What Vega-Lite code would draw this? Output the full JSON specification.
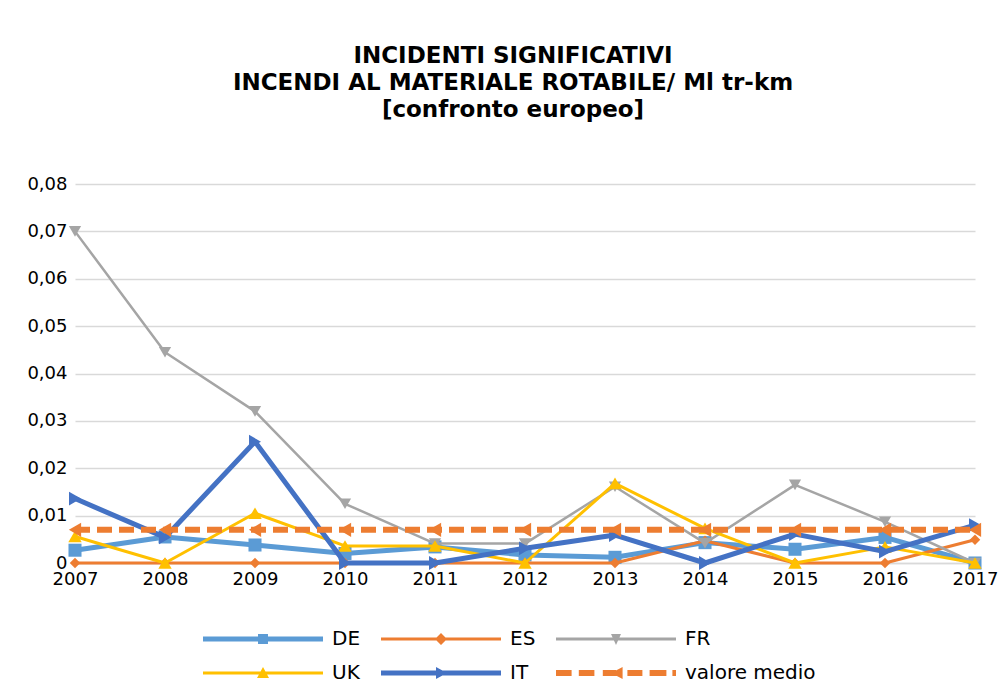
{
  "$schema": "https://vega.github.io/schema/vega-lite/v6.json",
  "width": 900,
  "height": 379,
  "autosize": {"type": "none"},
  "padding": {"left": 75, "top": 184, "right": 32, "bottom": 123},
  "background": "white",
  "title": {
    "text": ["INCIDENTI SIGNIFICATIVI", "INCENDI AL MATERIALE ROTABILE/ Ml tr-km", "[confronto europeo]"],
    "font": "DejaVu Sans",
    "fontSize": 23,
    "fontWeight": "bold",
    "color": "#000000",
    "anchor": "middle",
    "frame": "group",
    "baseline": "top",
    "lineHeight": 27,
    "offset": 53,
    "dx": -12
  },
  "config": {
    "view": {"stroke": null},
    "font": "DejaVu Sans"
  },
  "data": {
    "values": [
      {"anno": 2007, "serie": "DE", "valore": 0.0027},
      {"anno": 2008, "serie": "DE", "valore": 0.0055},
      {"anno": 2009, "serie": "DE", "valore": 0.0038},
      {"anno": 2010, "serie": "DE", "valore": 0.002},
      {"anno": 2011, "serie": "DE", "valore": 0.0034},
      {"anno": 2012, "serie": "DE", "valore": 0.0017},
      {"anno": 2013, "serie": "DE", "valore": 0.0012},
      {"anno": 2014, "serie": "DE", "valore": 0.0043},
      {"anno": 2015, "serie": "DE", "valore": 0.0029},
      {"anno": 2016, "serie": "DE", "valore": 0.0054},
      {"anno": 2017, "serie": "DE", "valore": 0.0},
      {"anno": 2007, "serie": "ES", "valore": 0},
      {"anno": 2008, "serie": "ES", "valore": 0},
      {"anno": 2009, "serie": "ES", "valore": 0},
      {"anno": 2010, "serie": "ES", "valore": 0},
      {"anno": 2011, "serie": "ES", "valore": 0},
      {"anno": 2012, "serie": "ES", "valore": 0},
      {"anno": 2013, "serie": "ES", "valore": 0},
      {"anno": 2014, "serie": "ES", "valore": 0.0047},
      {"anno": 2015, "serie": "ES", "valore": 0},
      {"anno": 2016, "serie": "ES", "valore": 0},
      {"anno": 2017, "serie": "ES", "valore": 0.0049},
      {"anno": 2007, "serie": "FR", "valore": 0.070},
      {"anno": 2008, "serie": "FR", "valore": 0.0445},
      {"anno": 2009, "serie": "FR", "valore": 0.032},
      {"anno": 2010, "serie": "FR", "valore": 0.0125},
      {"anno": 2011, "serie": "FR", "valore": 0.0041},
      {"anno": 2012, "serie": "FR", "valore": 0.0041},
      {"anno": 2013, "serie": "FR", "valore": 0.0161},
      {"anno": 2014, "serie": "FR", "valore": 0.0042},
      {"anno": 2015, "serie": "FR", "valore": 0.0165},
      {"anno": 2016, "serie": "FR", "valore": 0.0087},
      {"anno": 2017, "serie": "FR", "valore": 0.0},
      {"anno": 2007, "serie": "UK", "valore": 0.0056},
      {"anno": 2008, "serie": "UK", "valore": 0},
      {"anno": 2009, "serie": "UK", "valore": 0.0105},
      {"anno": 2010, "serie": "UK", "valore": 0.0036},
      {"anno": 2011, "serie": "UK", "valore": 0.0036},
      {"anno": 2012, "serie": "UK", "valore": 0},
      {"anno": 2013, "serie": "UK", "valore": 0.0168},
      {"anno": 2014, "serie": "UK", "valore": 0.0073},
      {"anno": 2015, "serie": "UK", "valore": 0},
      {"anno": 2016, "serie": "UK", "valore": 0.0034},
      {"anno": 2017, "serie": "UK", "valore": 0},
      {"anno": 2007, "serie": "IT", "valore": 0.0136},
      {"anno": 2008, "serie": "IT", "valore": 0.0054},
      {"anno": 2009, "serie": "IT", "valore": 0.0256},
      {"anno": 2010, "serie": "IT", "valore": 0},
      {"anno": 2011, "serie": "IT", "valore": 0},
      {"anno": 2012, "serie": "IT", "valore": 0.0031},
      {"anno": 2013, "serie": "IT", "valore": 0.0059},
      {"anno": 2014, "serie": "IT", "valore": 0},
      {"anno": 2015, "serie": "IT", "valore": 0.0061},
      {"anno": 2016, "serie": "IT", "valore": 0.0024},
      {"anno": 2017, "serie": "IT", "valore": 0.008},
      {"anno": 2007, "serie": "valore medio", "valore": 0.007},
      {"anno": 2008, "serie": "valore medio", "valore": 0.007},
      {"anno": 2009, "serie": "valore medio", "valore": 0.007},
      {"anno": 2010, "serie": "valore medio", "valore": 0.007},
      {"anno": 2011, "serie": "valore medio", "valore": 0.007},
      {"anno": 2012, "serie": "valore medio", "valore": 0.007},
      {"anno": 2013, "serie": "valore medio", "valore": 0.007},
      {"anno": 2014, "serie": "valore medio", "valore": 0.007},
      {"anno": 2015, "serie": "valore medio", "valore": 0.007},
      {"anno": 2016, "serie": "valore medio", "valore": 0.007},
      {"anno": 2017, "serie": "valore medio", "valore": 0.007}
    ]
  },
  "encoding": {
    "x": {
      "field": "anno",
      "type": "quantitative",
      "scale": {"domain": [2007, 2017], "nice": false, "zero": false},
      "axis": {
        "title": null,
        "values": [2007, 2008, 2009, 2010, 2011, 2012, 2013, 2014, 2015, 2016, 2017],
        "format": "d",
        "grid": false,
        "ticks": false,
        "domain": true,
        "domainColor": "#D9D9D9",
        "domainWidth": 1.3,
        "labelFont": "DejaVu Sans",
        "labelFontSize": 18,
        "labelColor": "#000000",
        "labelFlush": false,
        "labelPadding": 7,
        "labelOverlap": false
      }
    },
    "y": {
      "field": "valore",
      "type": "quantitative",
      "scale": {"domain": [0, 0.08], "nice": false},
      "axis": {
        "title": null,
        "values": [0, 0.01, 0.02, 0.03, 0.04, 0.05, 0.06, 0.07, 0.08],
        "labelExpr": "datum.value === 0 ? '0' : replace(format(datum.value, '.2f'), '.', ',')",
        "grid": true,
        "gridColor": "#D9D9D9",
        "gridWidth": 1.3,
        "ticks": false,
        "domain": false,
        "labelFont": "DejaVu Sans",
        "labelFontSize": 18,
        "labelColor": "#000000",
        "labelPadding": 8
      }
    },
    "color": {
      "field": "serie",
      "type": "nominal",
      "scale": {
        "domain": ["DE", "ES", "FR", "UK", "IT", "valore medio"],
        "range": ["#5B9BD5", "#ED7D31", "#A5A5A5", "#FFC000", "#4472C4", "#ED7D31"]
      },
      "legend": {
        "title": null,
        "orient": "none",
        "legendX": 128,
        "legendY": 445,
        "columns": 3,
        "direction": "horizontal",
        "columnPadding": 20,
        "rowPadding": 14,
        "clipHeight": 20,
        "padding": 0,
        "symbolSize": 14400,
        "symbolOffset": 0,
        "symbolStrokeWidth": 0,
        "labelOffset": 9,
        "labelFont": "DejaVu Sans",
        "labelFontSize": 20,
        "labelColor": "#000000",
        "labelLimit": 300,
        "encode": {
          "symbols": {
            "update": {
              "shape": {"signal": "datum.value === 'DE' ? 'M-1,-0.042H1V0.042H-1Z M-0.083,-0.083H0.083V0.083H-0.083Z' : datum.value === 'ES' ? 'M-1,-0.025H1V0.025H-1Z M0,-0.1L0.1,0L0,0.1L-0.1,0Z' : datum.value === 'FR' ? 'M-1,-0.025H1V0.025H-1Z M-0.083,-0.083L0.083,-0.083L0,0.1Z' : datum.value === 'UK' ? 'M-1,-0.025H1V0.025H-1Z M0,-0.1L0.1,0.083L-0.1,0.083Z' : datum.value === 'IT' ? 'M-1,-0.042H1V0.042H-1Z M-0.083,-0.1L0.1,0L-0.083,0.1Z' : 'M-1,-0.05H-0.74V0.05H-1Z M-0.62,-0.05H-0.36V0.05H-0.62Z M-0.22,-0.05H0V0.05H-0.22Z M-0.08,0L0.11,-0.1L0.11,0.1Z M0.19,-0.05H0.44V0.05H0.19Z M0.56,-0.05H0.84V0.05H0.56Z M0.94,-0.05H1V0.05H0.94Z'"},
              "fill": {"signal": "scale('color', datum.value)"},
              "strokeWidth": {"value": 0},
              "size": {"value": 14400},
              "opacity": {"value": 1},
              "fillOpacity": {"value": 1}
            }
          }
        }
      }
    }
  },
  "layer": [
    {
      "transform": [{"filter": {"field": "serie", "equal": "DE"}}],
      "mark": {"type": "line", "strokeWidth": 5, "strokeJoin": "round", "point": {"filled": true, "shape": "square", "size": 170, "strokeWidth": 0, "opacity": 1}}
    },
    {
      "transform": [{"filter": {"field": "serie", "equal": "ES"}}],
      "mark": {"type": "line", "strokeWidth": 3, "strokeJoin": "round", "point": {"filled": true, "shape": "diamond", "size": 110, "strokeWidth": 0, "opacity": 1}}
    },
    {
      "transform": [{"filter": {"field": "serie", "equal": "FR"}}],
      "mark": {"type": "line", "strokeWidth": 2.5, "strokeJoin": "round", "point": {"filled": true, "shape": "triangle-down", "size": 150, "strokeWidth": 0, "opacity": 1}}
    },
    {
      "transform": [{"filter": {"field": "serie", "equal": "UK"}}],
      "mark": {"type": "line", "strokeWidth": 3, "strokeJoin": "round", "point": {"filled": true, "shape": "triangle-up", "size": 180, "strokeWidth": 0, "opacity": 1}}
    },
    {
      "transform": [{"filter": {"field": "serie", "equal": "IT"}}],
      "mark": {"type": "line", "strokeWidth": 5, "strokeJoin": "round", "point": {"filled": true, "shape": "triangle-right", "size": 190, "strokeWidth": 0, "opacity": 1}}
    },
    {
      "transform": [{"filter": {"field": "serie", "equal": "valore medio"}}],
      "mark": {"type": "line", "strokeWidth": 6, "strokeCap": "butt", "strokeDash": [15, 7], "point": {"filled": true, "shape": "triangle-left", "size": 200, "strokeWidth": 0, "opacity": 1}}
    }
  ]
}
